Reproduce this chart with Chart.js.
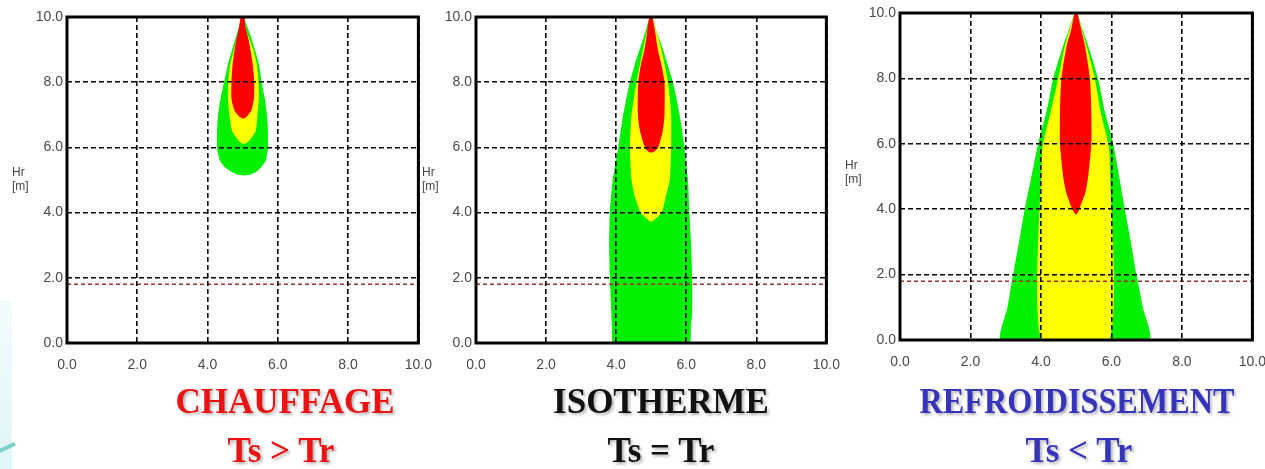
<!DOCTYPE html>
<html lang="fr">
<head>
<meta charset="utf-8">
<title>Chauffage / Isotherme / Refroidissement</title>
<script src="https://cdn.jsdelivr.net/npm/chart.js"></script>
<style>
    html, body { margin: 0; padding: 0; background: #fff; }
    body { width: 1265px; height: 469px; position: relative; overflow: hidden; font-family: 'Liberation Sans', Arial, sans-serif; }
    canvas { position: absolute; top: 0; }
    .hr { position: absolute; font-size: 12px; line-height: 14px; color: #444; }
    .titre {
        position: absolute; width: 400px; text-align: center; white-space: nowrap;
        font-family: 'Liberation Serif', 'Times New Roman', serif; font-weight: bold;
        font-size: 35px; line-height: 35px;
        text-shadow: 2px 2px 3px rgba(0, 0, 0, 0.3);
    }
    .rouge { color: #ee1111; }
    .noir { color: #111; }
    .bleu { color: #3535bb; }
    .serre { transform: scaleX(0.92); transform-origin: center; }
    .deco { position: absolute; left: 0; top: 300px; width: 12px; height: 169px; background: linear-gradient(#f3fcfd, #dff5f7); }
    .deco2 { position: absolute; left: -4px; top: 446px; width: 20px; height: 4px; background: #7fcfcf; transform: rotate(-25deg); }
</style>
</head>
<body>
<div class="deco"></div>
<div class="deco2"></div>

<canvas id="chauffage" width="441" height="385" style="left:5px"></canvas>
<canvas id="isotherme" width="440" height="385" style="left:414px"></canvas>
<canvas id="refroid" width="442" height="385" style="left:838px"></canvas>

<div class="hr" style="left:12px; top:165px">Hr<br>[m]</div>
<div class="hr" style="left:422px; top:165px">Hr<br>[m]</div>
<div class="hr" style="left:845px; top:158px">Hr<br>[m]</div>

<div class="titre rouge" style="left:85px; top:384px">CHAUFFAGE</div>
<div class="titre rouge" style="left:81px; top:433px">Ts &gt; Tr</div>
<div class="titre noir" style="left:461px; top:384px">ISOTHERME</div>
<div class="titre noir" style="left:461px; top:433px">Ts = Tr</div>
<div class="titre bleu serre" style="left:877px; top:384px">REFROIDISSEMENT</div>
<div class="titre bleu" style="left:879px; top:433px">Ts &lt; Tr</div>

<script>
    // graduations des deux axes
    const graduations = [0, 2, 4, 6, 8, 10];
    // ligne rouge pointillée (hauteur de respiration)
    const ligneX = [0, 10];
    const ligneY = [1.8, 1.8];

    // zones : [hauteur, x gauche, x droite]
    const chauffageVert = [
        [10, 4.97, 5.03], [9.5, 4.84, 5.2], [9, 4.7, 5.35], [8.5, 4.57, 5.47],
        [8, 4.47, 5.54], [7.5, 4.37, 5.63], [7, 4.3, 5.69], [6.5, 4.27, 5.72],
        [6, 4.27, 5.72], [5.6, 4.35, 5.66], [5.4, 4.49, 5.53], [5.25, 4.68, 5.39],
        [5.15, 4.88, 5.18]
    ];
    const chauffageJaune = [
        [10, 4.97, 5.03], [9.6, 4.9, 5.1], [9, 4.75, 5.3], [8.5, 4.64, 5.41],
        [8, 4.59, 5.45], [7.5, 4.58, 5.46], [7, 4.62, 5.42], [6.5, 4.7, 5.37],
        [6.22, 4.87, 5.2], [6.12, 4.98, 5.08]
    ];
    const chauffageRouge = [
        [10, 4.95, 5.05], [9.7, 4.9, 5.08], [9.3, 4.82, 5.17], [9, 4.77, 5.22],
        [8.5, 4.71, 5.29], [8, 4.68, 5.33], [7.5, 4.68, 5.32], [7.15, 4.76, 5.25],
        [6.95, 4.9, 5.12], [6.89, 5.0, 5.04]
    ];

    const isothermeVert = [
        [10, 4.96, 5.04], [9.5, 4.82, 5.17], [9, 4.67, 5.34], [8.5, 4.52, 5.48],
        [8, 4.39, 5.62], [7, 4.2, 5.81], [6, 4.06, 5.95], [5, 3.9, 6.05],
        [4, 3.82, 6.09], [3, 3.8, 6.14], [2, 3.82, 6.17], [1, 3.86, 6.17],
        [0.5, 3.88, 6.13], [0, 3.93, 6.08]
    ];
    const isothermeJaune = [
        [10, 4.97, 5.03], [9, 4.77, 5.29], [8, 4.58, 5.48], [7, 4.44, 5.57],
        [6, 4.39, 5.57], [5, 4.44, 5.53], [4.5, 4.53, 5.42], [4, 4.7, 5.3],
        [3.8, 4.88, 5.12], [3.72, 4.98, 5.02]
    ];
    const isothermeRouge = [
        [10, 4.95, 5.04], [9.5, 4.88, 5.12], [9, 4.81, 5.19], [8.5, 4.7, 5.3],
        [8, 4.63, 5.38], [7, 4.62, 5.38], [6.5, 4.68, 5.33], [6, 4.82, 5.2],
        [5.85, 4.95, 5.05]
    ];

    const refroidVert = [
        [10, 4.96, 5.04], [9.5, 4.8, 5.18], [9, 4.63, 5.34], [8, 4.35, 5.62],
        [7, 4.16, 5.81], [6, 3.92, 6.05], [5, 3.73, 6.22], [4, 3.54, 6.38],
        [3, 3.38, 6.55], [2, 3.21, 6.71], [1, 3.05, 6.89], [0, 2.88, 7.07]
    ];
    const refroidJaune = [
        [10, 4.97, 5.03], [9, 4.68, 5.29], [8, 4.49, 5.53], [7, 4.28, 5.69],
        [6, 4.06, 5.91], [5.6, 4.02, 5.95], [0, 4.02, 5.95]
    ];
    const refroidRouge = [
        [10, 4.96, 5.04], [9.5, 4.86, 5.14], [9, 4.73, 5.25], [8, 4.58, 5.39],
        [7, 4.54, 5.43], [6, 4.54, 5.43], [5, 4.63, 5.34], [4.5, 4.72, 5.26],
        [4.1, 4.85, 5.12], [3.85, 4.97, 5.02]
    ];

    const VERT = '#00f000';
    const JAUNE = '#ffff00';
    const ROUGE = '#ff0000';

    // contour fermé : côté droit de haut en bas, puis côté gauche de bas en haut
    function contour(rows) {
        const droite = rows.map(r => ({ x: r[2], y: r[0] }));
        const gauche = rows.slice().reverse().map(r => ({ x: r[1], y: r[0] }));
        return droite.concat(gauche, [droite[0]]);
    }

    function zone(rows, color, order, tension) {
        return {
            data: contour(rows),
            showLine: true,
            fill: 'shape',
            backgroundColor: color,
            borderWidth: 0,
            borderColor: color,
            pointRadius: 0,
            tension: tension,
            order: order
        };
    }

    const cadre = {
        id: 'cadre',
        afterDraw(chart) {
            const { ctx, chartArea: a } = chart;
            ctx.save();
            ctx.strokeStyle = '#000';
            ctx.lineWidth = 3;
            ctx.strokeRect(a.left, a.top, a.right - a.left, a.bottom - a.top);
            ctx.restore();
        }
    };

    function axe(largeur, hauteur) {
        return {
            type: 'linear',
            min: 0,
            max: 10,
            afterBuildTicks: s => { s.ticks = graduations.map(v => ({ value: v })); },
            afterFit: s => {
                if (largeur) s.width = largeur;
                if (hauteur) s.height = hauteur;
            },
            grid: { color: '#000', lineWidth: 1.6, drawTicks: false, z: 1 },
            border: { display: false, dash: [5, 3] },
            ticks: {
                color: '#4a4a4a',
                font: { family: 'Liberation Sans', size: 14 },
                padding: largeur ? 4 : 14,
                callback: v => v.toFixed(1)
            }
        };
    }

    function graphique(id, zones, top, bottom) {
        const datasets = [
            zone(zones[0], VERT, 3, 0.2),
            zone(zones[1], JAUNE, 2, 0.2),
            zone(zones[2], ROUGE, 1, 0.2),
            {
                data: ligneX.map((x, i) => ({ x: x, y: ligneY[i] })),
                showLine: true,
                borderColor: '#a03030',
                borderWidth: 1.5,
                borderDash: [4, 3],
                pointRadius: 0,
                fill: false,
                order: 0
            }
        ];
        new Chart(document.getElementById(id), {
            type: 'scatter',
            data: { datasets: datasets },
            options: {
                responsive: false,
                animation: false,
                layout: { padding: { top: top, right: 0, left: 0, bottom: 0 } },
                plugins: { legend: { display: false }, tooltip: { enabled: false } },
                scales: {
                    x: axe(0, 385 - bottom),
                    y: axe(62, 0)
                }
            },
            plugins: [cadre]
        });
    }

    graphique('chauffage', [chauffageVert, chauffageJaune, chauffageRouge], 17, 343);
    graphique('isotherme', [isothermeVert, isothermeJaune, isothermeRouge], 17, 343);
    graphique('refroid', [refroidVert, refroidJaune, refroidRouge], 13, 340);
</script>
</body>
</html>
